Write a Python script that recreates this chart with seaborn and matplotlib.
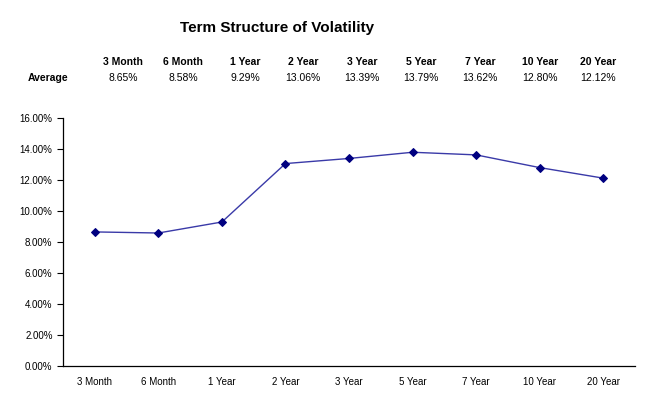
import seaborn as sns
import pandas as pd
import matplotlib.pyplot as plt
from matplotlib.ticker import FixedLocator, FuncFormatter

terms = ["3 Month", "6 Month", "1 Year", "2 Year", "3 Year",
         "5 Year", "7 Year", "10 Year", "20 Year"]
vols = [8.65, 8.58, 9.29, 13.06, 13.39, 13.79, 13.62, 12.80, 12.12]
vol_labels = ["8.65%", "8.58%", "9.29%", "13.06%", "13.39%",
              "13.79%", "13.62%", "12.80%", "12.12%"]

sns.set_style("white")
plt.rcParams['font.family'] = ['Liberation Sans', 'DejaVu Sans']
plt.rcParams['text.color'] = 'black'
plt.rcParams['xtick.color'] = 'black'
plt.rcParams['ytick.color'] = 'black'

df = pd.DataFrame({"term": terms, "vol": [v / 100 for v in vols]})

fig = plt.figure(figsize=(6.45, 3.94), dpi=100)
ax = fig.add_axes([0.0977, 0.0711, 0.8868, 0.6294])

sns.lineplot(data=df, x="term", y="vol", sort=False, ax=ax,
             color="#3a3aa8", linewidth=1.0, marker="D", markersize=3.6,
             markerfacecolor="#000080", markeredgecolor="#000080")

ax.set_xlim(-0.5, len(terms) - 0.5)
ax.set_ylim(0, 0.16)
ax.set_yticks([i * 0.02 for i in range(9)])
ax.yaxis.set_major_formatter(FuncFormatter(lambda v, p: f"{v * 100:.2f}%"))
ax.set_xlabel("")
ax.set_ylabel("")

# tick marks between categories, like the original
ax.xaxis.set_minor_locator(FixedLocator([i - 0.5 for i in range(len(terms) + 1)]))
ax.tick_params(axis="x", which="major", length=0, labelsize=7, pad=8)
ax.tick_params(axis="x", which="minor", length=4, width=0.8, direction="out", color="black")
ax.tick_params(axis="y", which="major", length=4, width=0.8, direction="out",
               labelsize=7, color="black", left=True)

sns.despine(ax=ax)
for s in ["left", "bottom"]:
    ax.spines[s].set_color("black")
    ax.spines[s].set_linewidth(0.9)

fig.text(0.43, 0.928, "Term Structure of Volatility", ha="center", va="center",
         fontsize=11, fontweight="bold")

col_x = [123, 183, 245, 303, 362, 421, 480, 540, 598]
for cx, t, lab in zip(col_x, terms, vol_labels):
    fig.text(cx / 645, 1 - 62 / 394, t, ha="center", va="center",
             fontsize=7.5, fontweight="bold")
    fig.text(cx / 645, 1 - 78 / 394, lab, ha="center", va="center", fontsize=7.5)
fig.text(48 / 645, 1 - 78 / 394, "Average", ha="center", va="center",
         fontsize=7.5, fontweight="bold")

fig.savefig("out.png", dpi=100)
